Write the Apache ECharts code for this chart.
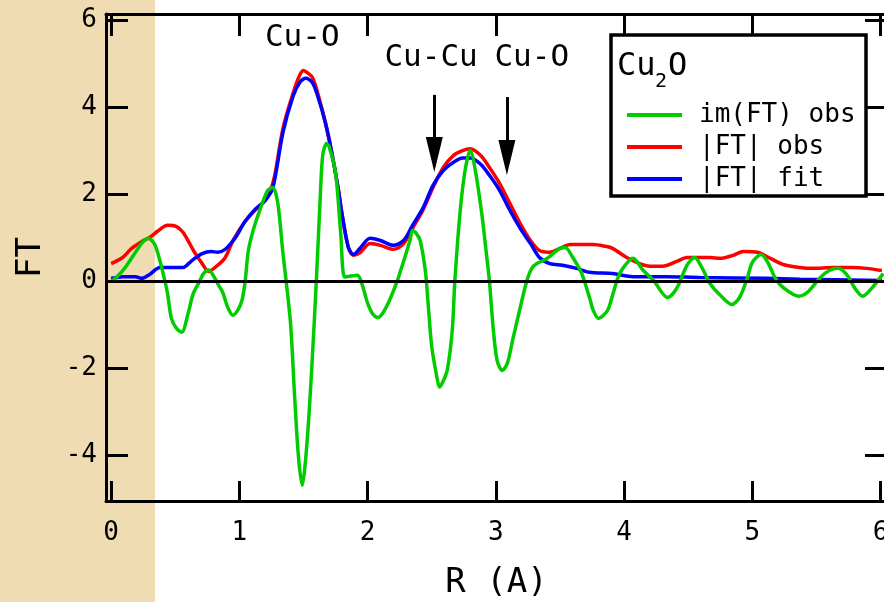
<!DOCTYPE html>
<html><head><meta charset="utf-8">
<script src="https://cdn.jsdelivr.net/npm/echarts@6/dist/echarts.min.js"></script>
<style>html,body{margin:0;padding:0;background:#fff}#c{width:884px;height:602px}</style>
</head><body><div id="c"></div><script>
const FONT = 'DejaVu Sans Mono';
const xTicks = [0, 1, 2, 3, 4, 5, 6];
const yTicks = [-4, -2, 0, 2, 4, 6];
const legendNames = ['im(FT) obs', '|FT| obs', '|FT| fit'];

// im(FT) obs (green)
const imR = [0.00,0.05,0.11,0.19,0.24,0.29,0.34,0.38,0.42,0.44,0.47,0.51,0.55,0.60,0.64,0.69,0.72,0.76,0.80,0.84,0.87,0.91,0.95,0.99,1.02,1.045,1.07,1.11,1.15,1.22,1.26,1.30,1.34,1.365,1.40,1.43,1.46,1.49,1.51,1.54,1.57,1.60,1.63,1.65,1.68,1.70,1.75,1.79,1.82,1.86,1.92,1.96,2.00,2.04,2.08,2.12,2.17,2.23,2.25,2.29,2.33,2.35,2.38,2.41,2.45,2.47,2.50,2.54,2.56,2.58,2.62,2.66,2.68,2.72,2.76,2.80,2.84,2.89,2.92,2.95,2.98,3.01,3.05,3.09,3.13,3.19,3.24,3.28,3.32,3.40,3.50,3.54,3.60,3.67,3.73,3.76,3.80,3.87,3.91,3.95,3.99,4.07,4.15,4.23,4.34,4.41,4.49,4.55,4.61,4.67,4.75,4.84,4.90,4.96,5.00,5.07,5.12,5.18,5.24,5.36,5.43,5.53,5.60,5.67,5.74,5.80,5.86,5.93,6.02];
const imObs = [0.00,0.12,0.32,0.67,0.88,0.99,0.85,0.48,0.00,-0.28,-0.85,-1.08,-1.17,-0.74,-0.28,0.00,0.18,0.26,0.12,-0.10,-0.25,-0.60,-0.78,-0.65,-0.44,0.00,0.71,1.20,1.56,2.09,2.16,1.79,0.64,0.00,-1.00,-2.60,-4.00,-4.69,-4.30,-3.20,-1.70,0.00,1.90,2.90,3.17,3.10,2.50,1.11,0.10,0.12,0.14,-0.10,-0.50,-0.75,-0.83,-0.72,-0.44,0.00,0.18,0.55,0.94,1.17,1.10,0.94,0.25,-0.44,-1.50,-2.20,-2.43,-2.35,-2.05,-1.13,0.00,1.56,2.55,3.01,2.55,1.56,0.80,0.00,-1.10,-1.82,-2.05,-1.88,-1.36,-0.60,0.00,0.30,0.41,0.53,0.76,0.78,0.55,0.18,-0.37,-0.67,-0.85,-0.67,-0.32,0.07,0.30,0.53,0.25,0.02,-0.37,-0.16,0.37,0.55,0.30,-0.05,-0.32,-0.53,-0.37,0.07,0.44,0.62,0.44,0.07,-0.14,-0.34,-0.25,0.09,0.25,0.30,0.14,-0.16,-0.34,-0.16,0.18];

// |FT| obs (red)
const absR = [0.00,0.09,0.16,0.24,0.30,0.37,0.44,0.51,0.56,0.62,0.65,0.71,0.76,0.83,0.89,0.95,1.04,1.12,1.20,1.25,1.28,1.34,1.42,1.47,1.50,1.53,1.57,1.61,1.67,1.72,1.77,1.80,1.85,1.89,1.94,2.02,2.10,2.20,2.28,2.35,2.43,2.51,2.59,2.67,2.74,2.80,2.88,2.95,3.03,3.11,3.19,3.27,3.34,3.42,3.50,3.58,3.76,3.85,3.91,4.02,4.12,4.20,4.30,4.41,4.49,4.67,4.75,4.85,4.93,5.04,5.14,5.24,5.37,5.47,5.63,5.78,5.89,6.01];
const absObs = [0.41,0.55,0.76,0.92,1.01,1.17,1.29,1.26,1.13,0.83,0.67,0.41,0.23,0.37,0.55,0.94,1.36,1.63,1.86,2.16,2.50,3.52,4.34,4.74,4.85,4.80,4.69,4.34,3.66,2.97,2.14,1.56,0.78,0.60,0.66,0.87,0.83,0.74,0.87,1.22,1.63,2.16,2.62,2.90,3.01,3.05,2.90,2.62,2.25,1.79,1.33,0.94,0.71,0.67,0.76,0.85,0.85,0.81,0.76,0.55,0.41,0.35,0.35,0.46,0.55,0.55,0.53,0.60,0.69,0.67,0.53,0.39,0.32,0.30,0.32,0.32,0.30,0.25];

// |FT| fit (blue)
const fitR = [0.00,0.09,0.19,0.24,0.30,0.38,0.47,0.56,0.63,0.71,0.78,0.83,0.89,0.97,1.04,1.12,1.20,1.26,1.34,1.42,1.47,1.52,1.57,1.61,1.67,1.72,1.77,1.80,1.85,1.89,1.94,2.02,2.10,2.20,2.28,2.35,2.43,2.51,2.59,2.67,2.74,2.80,2.88,2.95,3.03,3.11,3.19,3.27,3.34,3.42,3.52,3.63,3.73,3.91,4.07,4.33,4.59,5.11,5.37,6.01];
const fitVals = [0.07,0.11,0.11,0.07,0.16,0.32,0.32,0.32,0.48,0.64,0.69,0.67,0.74,1.01,1.36,1.65,1.86,2.14,3.43,4.27,4.57,4.67,4.57,4.27,3.66,2.97,2.14,1.56,0.78,0.62,0.76,0.99,0.94,0.83,0.94,1.29,1.68,2.21,2.55,2.74,2.84,2.84,2.70,2.44,2.09,1.63,1.22,0.87,0.55,0.41,0.37,0.30,0.21,0.18,0.11,0.11,0.09,0.07,0.05,0.02];

// annotations (data coordinates)
const peakLabels = [
  {text: 'Cu-O', r: 1.49, v: 5.59},
  {text: 'Cu-Cu', r: 2.495, v: 5.13},
  {text: 'Cu-O', r: 3.28, v: 5.13}
];
const arrows = [
  {r: 2.52, top: 4.29, head: 2.92},
  {r: 3.086, top: 4.24, head: 2.85}
];

const pairs = (xs, ys) => xs.map((x, i) => [x, ys[i]]);
const chart = echarts.init(document.getElementById('c'), null, {renderer: 'canvas'});

const axisLineStyle = {color: '#000', width: 3};
const xBase = {type: 'value', min: -0.04, max: 6.05, splitLine: {show: false},
  axisLine: {show: true, onZero: false, lineStyle: axisLineStyle}};
const yBase = {type: 'value', min: -5.05, max: 6.15, splitLine: {show: false},
  axisLine: {show: true, onZero: false, lineStyle: axisLineStyle}};

chart.setOption({
  animation: false,
  backgroundColor: '#fff',
  grid: {left: 106, top: 14, width: 781, height: 487, containLabel: false, outerBoundsMode: 'none'},
  xAxis: [
    Object.assign({}, xBase, {position: 'bottom',
      axisTick: {show: true, inside: true, length: 20, lineStyle: {color: '#000', width: 3}, customValues: xTicks},
      axisLabel: {customValues: xTicks, fontSize: 26, fontFamily: FONT, color: '#000', margin: 19},
      name: 'R (A)', nameLocation: 'middle', nameGap: 65,
      nameTextStyle: {fontSize: 34, fontFamily: FONT, color: '#000'}}),
    Object.assign({}, xBase, {position: 'top',
      axisTick: {show: true, inside: true, length: 22, lineStyle: {color: '#000', width: 3}, customValues: xTicks},
      axisLabel: {show: false}})
  ],
  yAxis: [
    Object.assign({}, yBase, {position: 'left',
      axisTick: {show: true, inside: true, length: 22, lineStyle: {color: '#000', width: 3}, customValues: yTicks},
      axisLabel: {customValues: yTicks, fontSize: 26, fontFamily: FONT, color: '#000', margin: 9},
      name: 'FT', nameLocation: 'middle', nameGap: 58, nameRotate: 90,
      nameTextStyle: {fontSize: 34, fontFamily: FONT, color: '#000'}}),
    Object.assign({}, yBase, {position: 'right',
      axisTick: {show: true, inside: true, length: 22, lineStyle: {color: '#000', width: 3}, customValues: yTicks},
      axisLabel: {show: false}})
  ],
  legend: {
    orient: 'vertical', left: 622, top: 97, itemWidth: 55, itemHeight: 4, itemGap: 6,
    icon: 'rect', data: legendNames, z: 8, selectedMode: false,
    textStyle: {fontFamily: FONT, fontSize: 26, color: '#000', lineHeight: 26, padding: [0, 0, 0, 12]}
  },
  graphic: [
    {type: 'rect', z: -1, silent: true, shape: {x: 0, y: 0, width: 155, height: 602}, style: {fill: '#EFDCB3'}},
    {type: 'rect', z: 5, silent: true, shape: {x: 611, y: 35, width: 255, height: 161},
      style: {fill: '#fff', stroke: '#000', lineWidth: 3.5}},
    {type: 'text', z: 8, silent: true, x: 617, y: 67, style: {text: 'Cu', font: '32px "DejaVu Sans Mono"', fill: '#000', verticalAlign: 'middle'}},
    {type: 'text', z: 8, silent: true, x: 655, y: 82, style: {text: '2', font: '20px "DejaVu Sans Mono"', fill: '#000', verticalAlign: 'middle'}},
    {type: 'text', z: 8, silent: true, x: 668, y: 67, style: {text: 'O', font: '32px "DejaVu Sans Mono"', fill: '#000', verticalAlign: 'middle'}}
  ],
  series: [
    {name: legendNames[1], type: 'line', data: pairs(absR, absObs), symbol: 'none', smooth: 0.3,
      lineStyle: {color: '#FF0000', width: 3.5}, itemStyle: {color: '#FF0000'},
      markLine: {silent: true, symbol: 'none', label: {show: false},
        lineStyle: {color: '#000', width: 3, type: 'solid'}, data: [{yAxis: 0}]}},
    {name: legendNames[2], type: 'line', data: pairs(fitR, fitVals), symbol: 'none', smooth: 0.3,
      lineStyle: {color: '#0000FF', width: 3.5}, itemStyle: {color: '#0000FF'}},
    {name: legendNames[0], type: 'line', data: pairs(imR, imObs), symbol: 'none', smooth: 0.3,
      lineStyle: {color: '#00CC00', width: 3.5}, itemStyle: {color: '#00CC00'},
      markLine: {silent: true, symbol: ['none', 'triangle'], label: {show: false},
        lineStyle: {color: '#000', width: 3, type: 'solid'},
        data: arrows.map(a => [{coord: [a.r, a.top]}, {coord: [a.r, a.head], symbol: 'triangle', symbolSize: [17, 35]}])},
      markPoint: {silent: true, symbol: 'circle', symbolSize: 0,
        label: {show: true, position: 'inside', fontFamily: FONT, fontSize: 31, color: '#000'},
        data: peakLabels.map(p => ({coord: [p.r, p.v], value: p.text, label: {formatter: p.text}}))}}
  ]
});
</script></body></html>
